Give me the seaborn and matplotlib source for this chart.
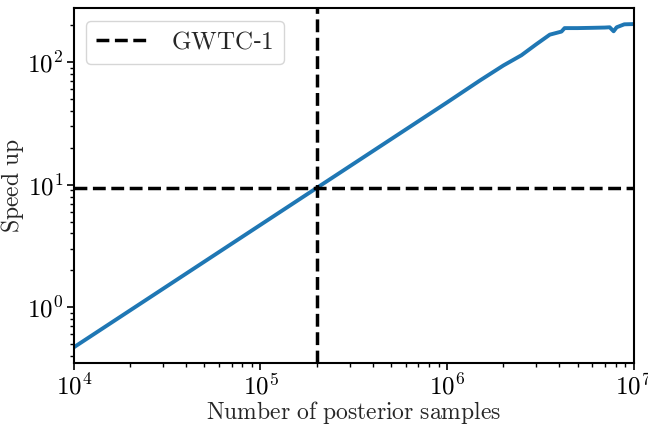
import numpy as np
import pandas as pd
import seaborn as sns
import matplotlib.pyplot as plt
from matplotlib.ticker import FuncFormatter

# values
n_samples = [1e4, 3e4, 1e5, 2e5, 5e5, 1e6, 1.5e6, 2e6, 2.5e6, 3e6, 3.55e6,
             4.1e6, 4.26e6, 5e6, 6e6, 7e6, 7.43e6, 7.8e6, 8.1e6, 8.9e6, 1e7]
speed_up = [0.47, 1.41, 4.7, 9.4, 23.5, 47, 71, 94, 114, 140, 168,
            178, 190, 190, 191, 192, 193, 179, 193, 204, 205]
gwtc1_samples = 2e5
gwtc1_speed_up = 9.4

df = pd.DataFrame({"samples": n_samples, "speed_up": speed_up})

sns.set_style("ticks")
plt.rcParams['mathtext.fontset'] = 'cm'
plt.rcParams['font.family'] = ['DejaVu Serif']

fig, ax = plt.subplots(figsize=(6.48, 4.24), dpi=100)
fig.subplots_adjust(left=0.114, right=0.978, top=0.981, bottom=0.144)
sns.lineplot(data=df, x="samples", y="speed_up", ax=ax, color="#1f77b4", linewidth=2.8)
ax.axvline(gwtc1_samples, color="k", linestyle="--", linewidth=2.5, label=r"$\mathrm{GWTC}$-$1$")
ax.axhline(gwtc1_speed_up, color="k", linestyle="--", linewidth=2.5)

ax.set_xscale("log")
ax.set_yscale("log")
ax.set_xlim(1e4, 1e7)
ax.set_ylim(0.35, 277)

pow10 = FuncFormatter(lambda v, pos: r"$10^{%d}$" % round(np.log10(v)))
ax.xaxis.set_major_formatter(pow10)
ax.yaxis.set_major_formatter(pow10)

ax.set_xlabel(r"$\mathrm{Number\ of\ posterior\ samples}$", fontsize=17, labelpad=0)
ax.set_ylabel(r"$\mathrm{Speed\ up}$", fontsize=17, labelpad=1)
ax.tick_params(axis="both", which="major", labelsize=18, width=1.2, length=5,
               color="k", labelcolor="k", pad=2.5)
ax.tick_params(axis="both", which="minor", width=1, length=3, color="k")
for s in ax.spines.values():
    s.set_linewidth(1.5)
    s.set_color("k")

ax.legend(loc="upper left", fontsize=18, handlelength=2.2)

plt.savefig("out.png")
